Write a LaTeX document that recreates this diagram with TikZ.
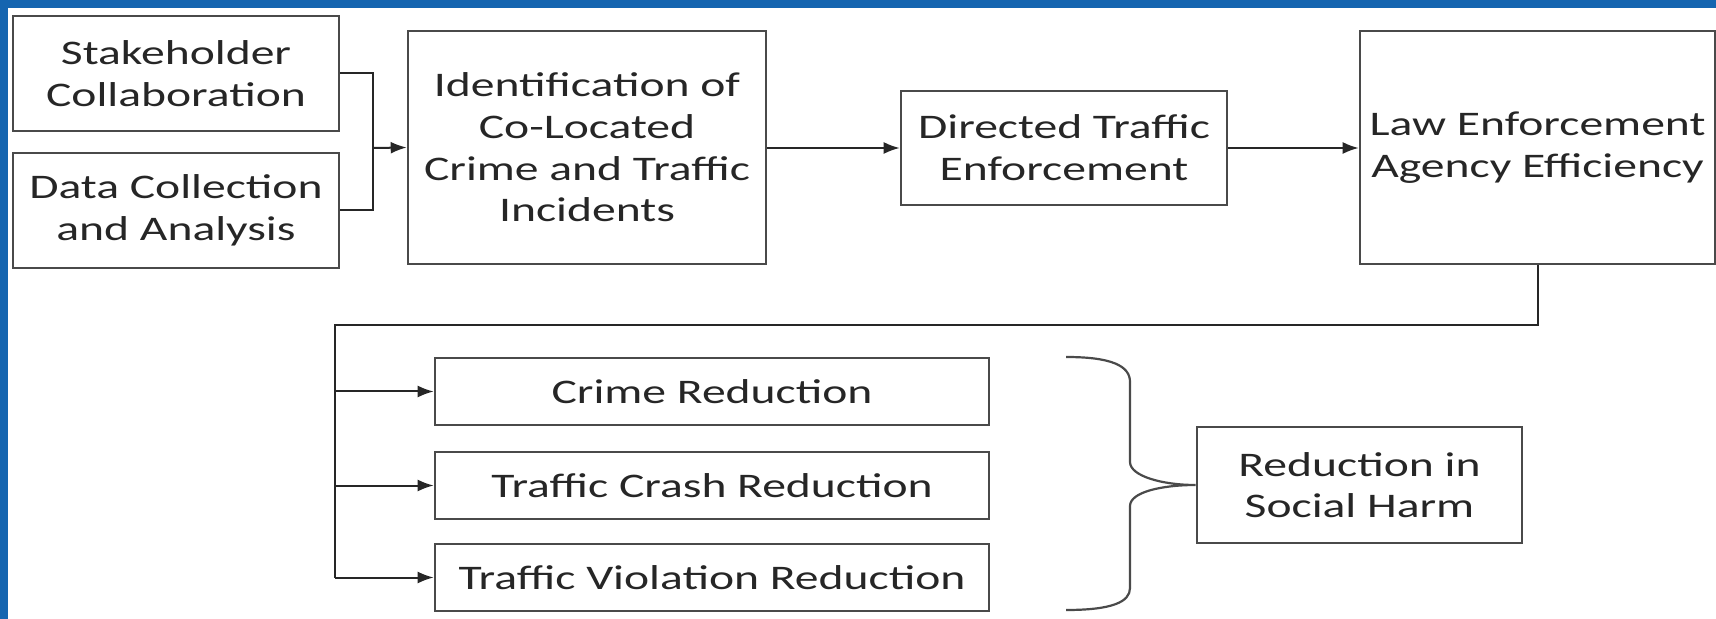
\documentclass[tikz,border=0pt]{standalone}
\usepackage{fontspec}
\setmainfont{Carlito}[FakeStretch=1.38]
\usetikzlibrary{arrows.meta}

\definecolor{frameblue}{HTML}{1565B0}
\definecolor{boxgray}{HTML}{4A4A4A}
\definecolor{textgray}{HTML}{262626}

\tikzset{
  block/.style={draw=boxgray, line width=1.3pt, text=textgray, align=center,
    inner sep=0pt, font=\fontsize{17.25}{20.85}\selectfont},
  link/.style={draw=black!85, line width=1pt},
  arr/.style={link, -{Latex[length=8pt,width=6pt]}}
}

\begin{document}
\begin{tikzpicture}[x=0.5pt,y=-0.5pt]
  \useasboundingbox (0,0) rectangle (1716,619);
  % frame strips
  \fill[frameblue] (0,0) rectangle (1716,8);
  \fill[frameblue] (0,0) rectangle (8,619);

  % top row
  \node[block, minimum width=163pt, minimum height=57.5pt] (stake) at (176,73.5) {Stakeholder\\Collaboration};
  \node[block, minimum width=163pt, minimum height=57.5pt] (data) at (176,210.5) {Data Collection\\and Analysis};
  \node[block, minimum width=179pt, minimum height=116.5pt] (ident) at (587,147.5) {Identification of\\Co-Located\\Crime and Traffic\\Incidents};
  \node[block, minimum width=163pt, minimum height=57pt] (directed) at (1064,148) {Directed Traffic\\Enforcement};
  \node[block, minimum width=177.5pt, minimum height=116.5pt] (law) at (1537.5,147.5) {Law Enforcement\\Agency Efficiency};

  % outcomes
  \node[block, minimum width=277pt, minimum height=33.5pt] (crime) at (712,391.5) {Crime Reduction};
  \node[block, minimum width=277pt, minimum height=33.5pt] (crash) at (712,485.5) {Traffic Crash Reduction};
  \node[block, minimum width=277pt, minimum height=33.5pt] (violation) at (712,577.5) {Traffic Violation Reduction};
  \node[block, minimum width=162.5pt, minimum height=58pt] (harm) at (1359.5,485) {Reduction in\\Social Harm};

  \coordinate (merge) at (373,148);
  \coordinate (bus) at (335,325);

  \draw[link] (stake.east) -| (merge) |- (data.east);
  \draw[arr] (merge) -- (ident.west);
  \draw[arr] (ident.east |- directed.west) -- (directed.west);
  \draw[arr] (directed.east) -- (law.west |- directed.east);

  \draw[link] (law.south) |- (bus) -- (bus |- violation.west);
  \foreach \n in {crime,crash,violation}
    \draw[arr] (bus |- \n.west) -- (\n.west);

  % brace
  \draw[boxgray, line width=1.1pt] (1066,357) .. controls (1112,357) and (1130,366) .. (1130,382)
    -- (1130,462) .. controls (1130,476) and (1162,485) .. (harm.west)
    .. controls (1162,485) and (1130,492) .. (1130,506)
    -- (1130,588) .. controls (1130,602) and (1112,610) .. (1066,610);
\end{tikzpicture}
\end{document}
